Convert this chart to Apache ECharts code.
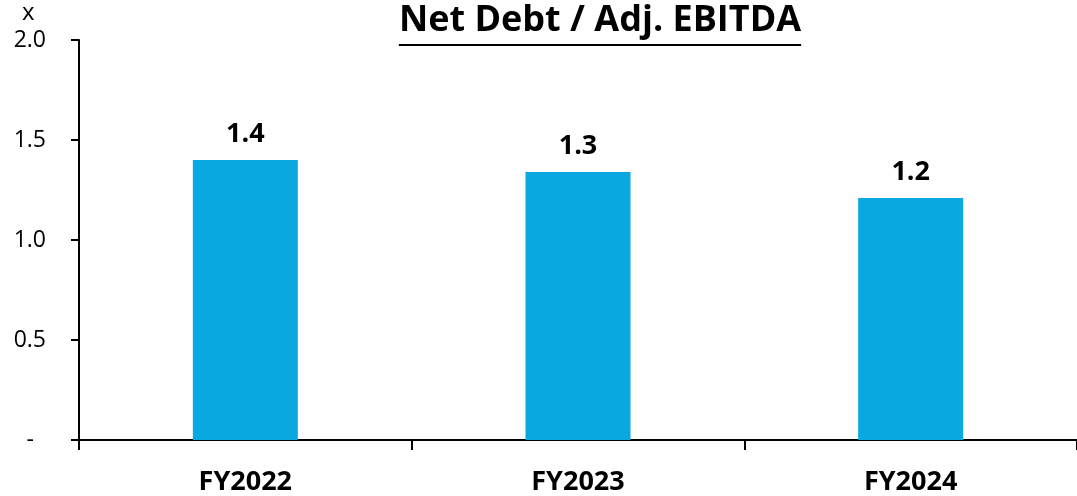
<!DOCTYPE html>
<html>
<head>
<meta charset="utf-8">
<script src="https://cdn.jsdelivr.net/npm/echarts@6/dist/echarts.min.js"></script>
<style>
  html, body { margin: 0; padding: 0; background: #fff; }
  #chart { width: 1077px; height: 496px; }
</style>
</head>
<body>
<div id="chart"></div>
<script>
const categories = ['FY2022', 'FY2023', 'FY2024'];
const ratioValues = [1.40, 1.34, 1.21];
const valueLabels = ['1.4', '1.3', '1.2'];

const titleText = 'Net Debt / Adj. EBITDA';
const titleFont = 'bold 36px "Open Sans"';
const fontFamily = '"Open Sans", "Liberation Sans", sans-serif';

// measure title so the underline fits it
const ctx = document.createElement('canvas').getContext('2d');
ctx.font = titleFont;
const titleWidth = ctx.measureText(titleText).width;
const titleCenter = 600;

const myChart = echarts.init(document.getElementById('chart'));

const chartsOption = {
  animation: false,
  grid: {
    left: 79,
    width: 1002,
    top: 40,
    bottom: 56
  },
  graphic: [
    {
      type: 'text',
      left: titleCenter - titleWidth / 2,
      top: 3,
      style: {
        text: titleText,
        font: titleFont,
        fill: '#000'
      }
    },
    {
      type: 'line',
      shape: { x1: titleCenter - titleWidth / 2, y1: 45, x2: titleCenter + titleWidth / 2, y2: 45 },
      style: { stroke: '#000', lineWidth: 2 }
    },
    {
      type: 'text',
      left: 22,
      top: 1,
      style: {
        text: 'x',
        font: '24px "Open Sans"',
        fill: '#000'
      }
    }
  ],
  xAxis: {
    type: 'category',
    data: categories,
    axisLine: { lineStyle: { color: '#000', width: 2 } },
    axisTick: { show: true, length: 10, lineStyle: { color: '#000', width: 2 } },
    axisLabel: {
      margin: 29,
      color: '#000',
      fontSize: 27,
      fontWeight: 'bold',
      fontFamily: fontFamily
    }
  },
  yAxis: {
    type: 'value',
    min: 0,
    max: 2,
    interval: 0.5,
    splitLine: { show: false },
    axisLine: { show: true, lineStyle: { color: '#000', width: 2 } },
    axisTick: { show: true, length: 8, lineStyle: { color: '#000', width: 2 } },
    axisLabel: {
      margin: 33,
      color: '#000',
      fontSize: 23,
      fontFamily: fontFamily,
      formatter: (v) => {
        if (v === 0) {
          return '{d|-}';
        }
        return v.toFixed(1);
      },
      rich: {
        d: { fontSize: 23, fontFamily: fontFamily, color: '#000', padding: [0, 12, 0, 0] }
      }
    }
  },
  series: [
    {
      type: 'bar',
      data: ratioValues,
      barWidth: 105,
      itemStyle: { color: '#09A8E0' },
      label: {
        show: true,
        position: 'top',
        distance: 12,
        color: '#000',
        fontSize: 27,
        fontWeight: 'bold',
        fontFamily: fontFamily,
        formatter: (params) => valueLabels[params.dataIndex]
      }
    }
  ]
};

myChart.setOption(chartsOption);
</script>
</body>
</html>
